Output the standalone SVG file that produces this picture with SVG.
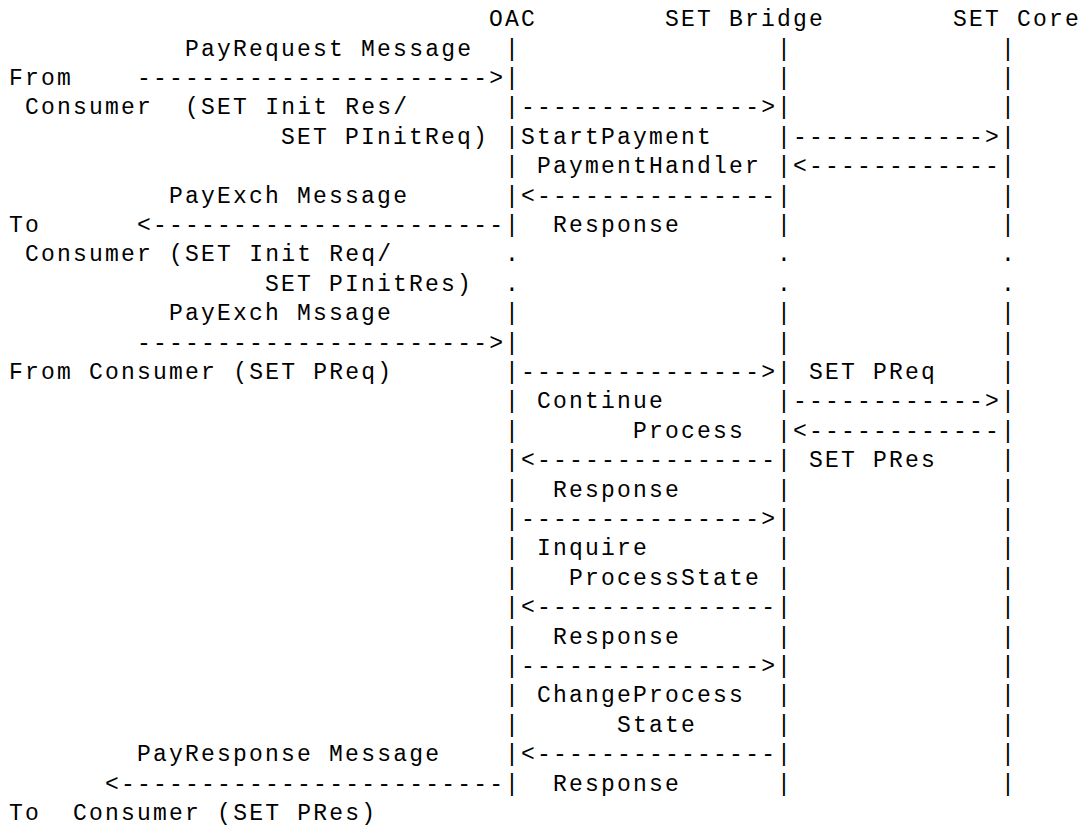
<svg xmlns="http://www.w3.org/2000/svg" width="1084" height="827" viewBox="0 0 1084 827" xml:space="preserve">
<style>
text{font-family:"Liberation Mono","DejaVu Sans Mono",monospace;font-size:23px;letter-spacing:2.2px;fill:#000;white-space:pre}
</style>
<rect x="0" y="0" width="1084" height="827" fill="#fff"/>
<g id="node-oac">
<text x="489.1" y="26.2">OAC</text>
<text><tspan x="505.1" y="55.6">|</tspan><tspan x="505.1" y="85">|</tspan><tspan x="505.1" y="114.4">|</tspan><tspan x="505.1" y="143.8">|</tspan><tspan x="505.1" y="173.2">|</tspan><tspan x="505.1" y="202.6">|</tspan><tspan x="505.1" y="232">|</tspan><tspan x="505.1" y="261.4">.</tspan><tspan x="505.1" y="290.8">.</tspan><tspan x="505.1" y="320.2">|</tspan><tspan x="505.1" y="349.6">|</tspan><tspan x="505.1" y="379">|</tspan><tspan x="505.1" y="408.4">|</tspan><tspan x="505.1" y="437.8">|</tspan><tspan x="505.1" y="467.2">|</tspan><tspan x="505.1" y="496.6">|</tspan><tspan x="505.1" y="526">|</tspan><tspan x="505.1" y="555.4">|</tspan><tspan x="505.1" y="584.8">|</tspan><tspan x="505.1" y="614.2">|</tspan><tspan x="505.1" y="643.6">|</tspan><tspan x="505.1" y="673">|</tspan><tspan x="505.1" y="702.4">|</tspan><tspan x="505.1" y="731.8">|</tspan><tspan x="505.1" y="761.2">|</tspan><tspan x="505.1" y="790.6">|</tspan></text>
</g>
<g id="node-set-bridge">
<text x="665.1" y="26.2">SET Bridge</text>
<text><tspan x="777.1" y="55.6">|</tspan><tspan x="777.1" y="85">|</tspan><tspan x="777.1" y="114.4">|</tspan><tspan x="777.1" y="143.8">|</tspan><tspan x="777.1" y="173.2">|</tspan><tspan x="777.1" y="202.6">|</tspan><tspan x="777.1" y="232">|</tspan><tspan x="777.1" y="261.4">.</tspan><tspan x="777.1" y="290.8">.</tspan><tspan x="777.1" y="320.2">|</tspan><tspan x="777.1" y="349.6">|</tspan><tspan x="777.1" y="379">|</tspan><tspan x="777.1" y="408.4">|</tspan><tspan x="777.1" y="437.8">|</tspan><tspan x="777.1" y="467.2">|</tspan><tspan x="777.1" y="496.6">|</tspan><tspan x="777.1" y="526">|</tspan><tspan x="777.1" y="555.4">|</tspan><tspan x="777.1" y="584.8">|</tspan><tspan x="777.1" y="614.2">|</tspan><tspan x="777.1" y="643.6">|</tspan><tspan x="777.1" y="673">|</tspan><tspan x="777.1" y="702.4">|</tspan><tspan x="777.1" y="731.8">|</tspan><tspan x="777.1" y="761.2">|</tspan><tspan x="777.1" y="790.6">|</tspan></text>
</g>
<g id="node-set-core">
<text x="953.1" y="26.2">SET Core</text>
<text><tspan x="1001.1" y="55.6">|</tspan><tspan x="1001.1" y="85">|</tspan><tspan x="1001.1" y="114.4">|</tspan><tspan x="1001.1" y="143.8">|</tspan><tspan x="1001.1" y="173.2">|</tspan><tspan x="1001.1" y="202.6">|</tspan><tspan x="1001.1" y="232">|</tspan><tspan x="1001.1" y="261.4">.</tspan><tspan x="1001.1" y="290.8">.</tspan><tspan x="1001.1" y="320.2">|</tspan><tspan x="1001.1" y="349.6">|</tspan><tspan x="1001.1" y="379">|</tspan><tspan x="1001.1" y="408.4">|</tspan><tspan x="1001.1" y="437.8">|</tspan><tspan x="1001.1" y="467.2">|</tspan><tspan x="1001.1" y="496.6">|</tspan><tspan x="1001.1" y="526">|</tspan><tspan x="1001.1" y="555.4">|</tspan><tspan x="1001.1" y="584.8">|</tspan><tspan x="1001.1" y="614.2">|</tspan><tspan x="1001.1" y="643.6">|</tspan><tspan x="1001.1" y="673">|</tspan><tspan x="1001.1" y="702.4">|</tspan><tspan x="1001.1" y="731.8">|</tspan><tspan x="1001.1" y="761.2">|</tspan><tspan x="1001.1" y="790.6">|</tspan></text>
</g>
<g id="node-consumer">
<text x="9.1" y="85">From</text>
<text x="25.1" y="114.4">Consumer  (SET Init Res/</text>
<text x="281.1" y="143.8">SET PInitReq)</text>
<text x="9.1" y="232">To</text>
<text x="25.1" y="261.4">Consumer (SET Init Req/</text>
<text x="265.1" y="290.8">SET PInitRes)</text>
<text x="9.1" y="379">From Consumer (SET PReq)</text>
<text x="9.1" y="820">To  Consumer (SET PRes)</text>
</g>
<g id="connectors">
<text x="137.1" y="85">----------------------&gt;</text>
<text x="521.1" y="114.4">---------------&gt;</text>
<text x="793.1" y="143.8">------------&gt;</text>
<text x="793.1" y="173.2">&lt;------------</text>
<text x="521.1" y="202.6">&lt;---------------</text>
<text x="137.1" y="232">&lt;----------------------</text>
<text x="137.1" y="349.6">----------------------&gt;</text>
<text x="521.1" y="379">---------------&gt;</text>
<text x="793.1" y="408.4">------------&gt;</text>
<text x="793.1" y="437.8">&lt;------------</text>
<text x="521.1" y="467.2">&lt;---------------</text>
<text x="521.1" y="526">---------------&gt;</text>
<text x="521.1" y="614.2">&lt;---------------</text>
<text x="521.1" y="673">---------------&gt;</text>
<text x="521.1" y="761.2">&lt;---------------</text>
<text x="105.1" y="790.6">&lt;------------------------</text>
</g>
<g id="labels">
<text x="185.1" y="55.6">PayRequest Message</text>
<text x="521.1" y="143.8">StartPayment</text>
<text x="537.1" y="173.2">PaymentHandler</text>
<text x="169.1" y="202.6">PayExch Message</text>
<text x="553.1" y="232">Response</text>
<text x="169.1" y="320.2">PayExch Mssage</text>
<text x="809.1" y="379">SET PReq</text>
<text x="537.1" y="408.4">Continue</text>
<text x="633.1" y="437.8">Process</text>
<text x="809.1" y="467.2">SET PRes</text>
<text x="553.1" y="496.6">Response</text>
<text x="537.1" y="555.4">Inquire</text>
<text x="569.1" y="584.8">ProcessState</text>
<text x="553.1" y="643.6">Response</text>
<text x="537.1" y="702.4">ChangeProcess</text>
<text x="617.1" y="731.8">State</text>
<text x="137.1" y="761.2">PayResponse Message</text>
<text x="553.1" y="790.6">Response</text>
</g>
</svg>
